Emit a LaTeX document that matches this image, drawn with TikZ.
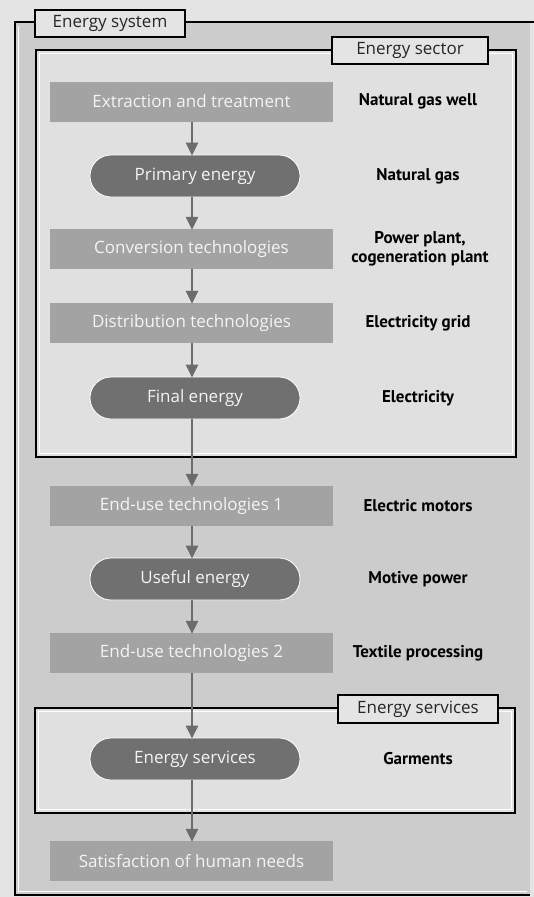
\documentclass[tikz,border=0pt]{standalone}
\usepackage{fontspec}
\setmainfont{Open Sans}
\newfontfamily\labelfont{PT Sans}
\usepackage{xcolor}
\definecolor{esbg}{RGB}{228,228,228}
\definecolor{essystem}{RGB}{204,204,204}
\definecolor{essector}{RGB}{224,224,224}
\definecolor{estab}{RGB}{228,228,228}
\definecolor{esbox}{RGB}{163,163,163}
\definecolor{espill}{RGB}{112,112,112}
\definecolor{esarrow}{RGB}{108,108,108}
\definecolor{estext}{RGB}{244,244,244}
\usepackage{tikz}
\usetikzlibrary{arrows.meta, positioning}

\tikzset{
  techbox/.style={rectangle, fill=esbox, minimum width=283pt, minimum height=40pt,
    text=estext, font=\fontsize{17}{20}\selectfont, inner sep=0pt},
  energypill/.style={rectangle, rounded corners=21pt, fill=espill, draw=white, line width=0.8pt,
    minimum width=210pt, minimum height=42pt, text=estext, font=\fontsize{17}{20}\selectfont, inner sep=0pt},
  sidelabel/.style={text=black, font=\labelfont\bfseries\fontsize{17}{19}\selectfont, align=center, inner sep=1pt},
  flowarrow/.style={draw=esarrow, line width=2.6pt, -{Triangle[length=13pt,width=12pt]}, shorten >=-1pt},
  frametab/.style={rectangle, fill=estab, draw=black, line width=1.8pt, text=black!85,
    font=\fontsize{17}{20}\selectfont, inner sep=0pt},
}

\begin{document}
\begin{tikzpicture}[x=1pt, y=-1pt]
  \useasboundingbox (0,0) rectangle (534,897);
  \fill[esbg] (0,0) rectangle (534,897);

  % Energy system frame
  \fill[essystem] (15,22) rectangle (530,895);
  \draw[white, line width=0.7pt] (18.5,25.5) -- (18.5,891.5) -- (527,891.5);
  \draw[black, line width=1.8pt] (534,22) -- (15,22) -- (15,895) -- (530,895);

  % Energy sector frame
  \fill[essector] (36,50) rectangle (516,457);
  \draw[black, line width=1.8pt] (36,50) rectangle (516,457);
  \draw[white, line width=0.7pt] (39.5,53.5) rectangle (512.5,453.5);

  % Energy services frame
  \fill[essector] (35,708) rectangle (515,813);
  \draw[black, line width=1.8pt] (35,708) rectangle (515,813);
  \draw[white, line width=0.7pt] (38.5,711.5) rectangle (511.5,809.5);

  % Frame tabs
  \node[frametab, minimum width=150pt, minimum height=27pt] (tabsystem) at (110,23.5) {Energy system};
  \node[frametab, minimum width=156pt, minimum height=27pt] (tabsector) at (410,50.5) {Energy sector};
  \node[frametab, minimum width=160pt, minimum height=28pt] (tabservices) at (418,709) {Energy services};

  % Chain of energy forms and technologies
  \node[techbox] (extract) at (191.5,101.5) {Extraction and treatment};
  \node[energypill] (primary) at (195,176) {Primary energy};
  \node[techbox] (convert) at (191.5,249) {Conversion technologies};
  \node[techbox] (distrib) at (191.5,323) {Distribution technologies};
  \node[energypill] (final) at (195,398) {Final energy};
  \node[techbox] (enduseA) at (191.5,506) {End-use technologies 1};
  \node[energypill] (useful) at (195,579) {Useful energy};
  \node[techbox] (enduseB) at (191.5,653) {End-use technologies 2};
  \node[energypill] (services) at (195,759) {Energy services};
  \node[techbox] (needs) at (191.5,861) {Satisfaction of human needs};

  % Examples
  \node[sidelabel] (gaswell) at (418,101.5) {Natural gas well};
  \node[sidelabel] (gas) at (418,176) {Natural gas};
  \node[sidelabel] (plant) at (420,249) {Power plant,\\cogeneration plant};
  \node[sidelabel] (grid) at (418,323) {Electricity grid};
  \node[sidelabel] (elec) at (418,398) {Electricity};
  \node[sidelabel] (motors) at (418,506) {Electric motors};
  \node[sidelabel] (motive) at (418,579) {Motive power};
  \node[sidelabel] (textile) at (418,653) {Textile processing};
  \node[sidelabel] (garments) at (418,759) {Garments};

  % Arrows
  \draw[flowarrow] ([xshift=0.5pt]extract.south) -- ([xshift=0.5pt]primary.north -| extract.south);
  \draw[flowarrow] ([xshift=0.5pt]primary.south -| extract.south) -- ([xshift=0.5pt]convert.north);
  \draw[flowarrow] ([xshift=0.5pt]convert.south) -- ([xshift=0.5pt]distrib.north);
  \draw[flowarrow] ([xshift=0.5pt]distrib.south) -- ([xshift=0.5pt]final.north -| distrib.south);
  \draw[flowarrow] ([xshift=0.5pt]final.south -| distrib.south) -- ([xshift=0.5pt]enduseA.north);
  \draw[flowarrow] ([xshift=0.5pt]enduseA.south) -- ([xshift=0.5pt]useful.north -| enduseA.south);
  \draw[flowarrow] ([xshift=0.5pt]useful.south -| enduseA.south) -- ([xshift=0.5pt]enduseB.north);
  \draw[flowarrow] ([xshift=0.5pt]enduseB.south) -- ([xshift=0.5pt]services.north -| enduseB.south);
  \draw[flowarrow] ([xshift=0.5pt]services.south -| enduseB.south) -- ([xshift=0.5pt]needs.north);
\end{tikzpicture}
\end{document}
